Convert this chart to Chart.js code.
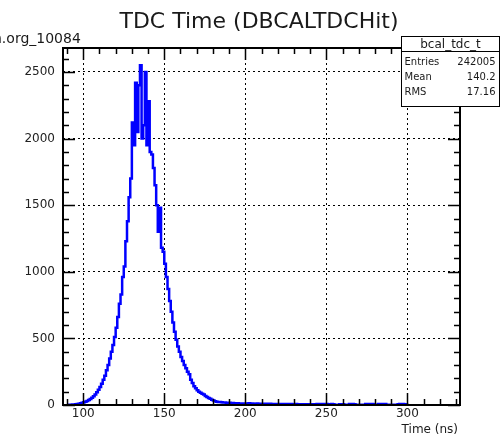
<!DOCTYPE html>
<html>
<head>
<meta charset="utf-8">
<script src="https://cdn.jsdelivr.net/npm/chart.js@4.4.1/dist/chart.umd.min.js"></script>
<style>
  html, body { margin: 0; padding: 0; background: #fff; }
  #wrap { width: 501px; height: 438px; }
</style>
</head>
<body>
<div id="wrap"><canvas id="tdcChart" width="501" height="438"></canvas></div>
<script>
// histogram: 1 ns bins, first bin starts at 90 ns
const firstBin = 90;
const binCounts = [
  1, 1, 2, 3, 4, 6, 8, 10, 13, 16,                        // 90-99
  20, 25, 30, 38, 45, 55, 65, 78, 95, 115,                // 100-109
  135, 160, 190, 220, 260, 300, 350, 400, 450, 510,       // 110-119
  580, 660, 760, 830, 960, 1040, 1230, 1380, 1560, 1700,  // 120-129
  2120, 1950, 2420, 2050, 2400, 2550, 2000, 2100, 2500, 1950, // 130-139
  2280, 1900, 1880, 1780, 1650, 1500, 1300, 1480, 1180, 1150, // 140-149
  1060, 960, 870, 780, 700, 620, 550, 490, 440, 400,      // 150-159
  360, 330, 300, 275, 250, 230, 190, 165, 140, 125,       // 160-169
  110, 100, 92, 85, 78, 68, 60, 52, 46, 40,               // 170-179
  34, 28, 25, 23, 22, 20, 19, 18, 17, 17,                 // 180-189
  16, 15, 15, 14, 13, 13, 12, 12, 11, 11,                 // 190-199
  12, 11, 13, 10, 11, 9, 10, 12, 9, 10,                   // 200-209
  9, 10, 8, 9, 8, 9, 7, 8, 8, 7,                          // 210-219
  8, 7, 7, 8, 6, 7, 7, 6, 7, 6,                           // 220-229
  6, 7, 6, 5, 6, 6, 5, 6, 5, 5,                           // 230-239
  6, 5, 5, 6, 7, 6, 7, 6, 7, 6,                           // 240-249
  7, 6, 6, 7, 6, 2, 2, 2, 6, 6,                           // 250-259
  6, 2, 2, 2, 7, 6, 7, 6, 2, 2,                           // 260-269
  2, 2, 2, 2, 7, 6, 7, 6, 7, 6,                           // 270-279
  2, 2, 7, 6, 7, 6, 7, 2, 2, 2,                           // 280-289
  2, 2, 2, 2, 6, 7, 6, 7, 6, 0,                           // 290-299
  0                                                       // 300
];

const xRange = [87.5, 332.5];
const yRange = [0, 2680];
const xTickValues = [100, 150, 200, 250, 300];
const yTickValues = [0, 500, 1000, 1500, 2000, 2500];

const chartTitle = 'TDC Time (DBCALTDCHit)';
const xAxisTitle = 'Time (ns)';
const cornerLabel = 'n.org_10084';
const histName = 'bcal_tdc_t';
const statsLabels = ['Entries', 'Mean', 'RMS'];
const statsValues = ['242005', '140.2', '17.16'];

const points = binCounts.map((c, i) => ({ x: firstBin + i, y: c }));
points.push({ x: firstBin + binCounts.length, y: 0 });

const FONT = "'DejaVu Sans', sans-serif";

// ROOT-like frame, inward ticks, title and stats box
const rootFrame = {
  id: 'rootFrame',
  afterDatasetsDraw(chart) {
    const ctx = chart.ctx;
    const a = chart.chartArea;
    const xs = chart.scales.x;
    const ys = chart.scales.y;
    ctx.save();
    ctx.strokeStyle = '#000';

    // ticks
    ctx.lineWidth = 1.5;
    ctx.beginPath();
    for (let v = 90; v <= xRange[1]; v += 10) {
      const px = Math.round(xs.getPixelForValue(v)) + 0.5;
      const len = v % 50 === 0 ? 12 : 6;
      ctx.moveTo(px, a.bottom); ctx.lineTo(px, a.bottom - len);
      ctx.moveTo(px, a.top); ctx.lineTo(px, a.top + len);
    }
    for (let v = 0; v <= yRange[1]; v += 100) {
      const py = Math.round(ys.getPixelForValue(v)) + 0.5;
      const len = v % 500 === 0 ? 12 : 6;
      ctx.moveTo(a.left, py); ctx.lineTo(a.left + len, py);
      ctx.moveTo(a.right, py); ctx.lineTo(a.right - len, py);
    }
    ctx.stroke();

    // frame
    ctx.lineWidth = 2;
    ctx.strokeRect(a.left, a.top, a.right - a.left, a.bottom - a.top);

    // texts
    ctx.fillStyle = '#1a1a1a';
    ctx.textBaseline = 'alphabetic';
    ctx.font = '22px ' + FONT;
    ctx.textAlign = 'center';
    ctx.fillText(chartTitle, 259, 28);

    ctx.font = '14px ' + FONT;
    ctx.textAlign = 'left';
    ctx.fillText(cornerLabel, -7, 43);

    ctx.font = '12px ' + FONT;
    ctx.textAlign = 'right';
    ctx.fillText(xAxisTitle, a.right - 2, 433);

    // stats box
    const bx = 401.5, by = 36.5, bw = 98, bh = 70;
    ctx.fillStyle = '#fff';
    ctx.fillRect(bx, by, bw, bh);
    ctx.lineWidth = 1;
    ctx.strokeRect(bx, by, bw, bh);
    ctx.beginPath();
    ctx.moveTo(bx, by + 15); ctx.lineTo(bx + bw, by + 15);
    ctx.stroke();
    ctx.fillStyle = '#1a1a1a';
    ctx.font = '12px ' + FONT;
    ctx.textAlign = 'center';
    ctx.fillText(histName, bx + bw / 2, by + 11);
    ctx.font = '10px ' + FONT;
    statsLabels.forEach((lab, i) => {
      const y = by + 28 + i * 15;
      ctx.textAlign = 'left';
      ctx.fillText(lab, bx + 3, y);
      ctx.textAlign = 'right';
      ctx.fillText(statsValues[i], bx + bw - 4, y);
    });
    ctx.restore();
  }
};

new Chart(document.getElementById('tdcChart'), {
  type: 'line',
  data: {
    datasets: [{
      data: points,
      borderColor: '#0000ff',
      borderWidth: 2.5,
      pointRadius: 0,
      stepped: 'before',
      fill: false,
      clip: 0
    }]
  },
  options: {
    responsive: false,
    devicePixelRatio: 1,
    animation: false,
    layout: { padding: { left: 0, top: 48, right: 41, bottom: 11 } },
    plugins: {
      legend: { display: false },
      tooltip: { enabled: false },
      title: { display: false }
    },
    scales: {
      x: {
        type: 'linear',
        min: xRange[0],
        max: xRange[1],
        afterBuildTicks: (s) => { s.ticks = xTickValues.map(v => ({ value: v })); },
        afterFit: (s) => { s.height = 22; },
        grid: { color: '#000', lineWidth: 1, drawTicks: false },
        border: { display: false, dash: [2, 3] },
        ticks: { padding: 2, color: '#222', font: { family: FONT, size: 12 }, maxRotation: 0,
                 callback: (v) => String(v) }
      },
      y: {
        type: 'linear',
        min: yRange[0],
        max: yRange[1],
        afterBuildTicks: (s) => { s.ticks = yTickValues.map(v => ({ value: v })); },
        afterFit: (s) => { s.width = 63; },
        grid: { color: '#000', lineWidth: 1, drawTicks: false },
        border: { display: false, dash: [2, 3] },
        ticks: { padding: 8, color: '#222', font: { family: FONT, size: 12 },
                 callback: (v) => String(v) }
      }
    }
  },
  plugins: [rootFrame]
});
</script>
</body>
</html>
